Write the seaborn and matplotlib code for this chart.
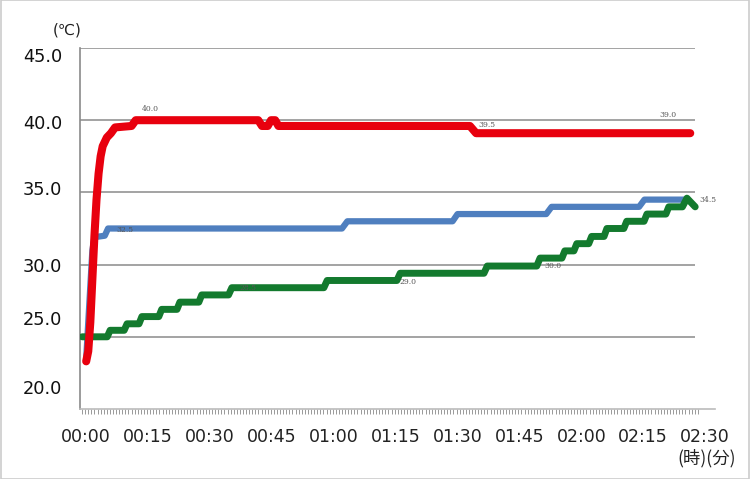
import numpy as np
import pandas as pd
import seaborn as sns
import matplotlib.pyplot as plt

# elapsed time in minutes, temperature in deg C
red_t = [0, 0.5, 1, 1.5, 2, 2.5, 3, 3.5, 4, 5, 6, 7, 11, 12, 41.7, 42.6, 44.0, 44.8, 45.8, 46.6, 93.0, 94.5, 146.4]
red_v = [23.3, 24.0, 26.0, 29.0, 32.0, 34.5, 36.3, 37.5, 38.2, 38.8, 39.1, 39.5, 39.6, 40.0, 40.0, 39.6, 39.6, 40.0, 40.0, 39.6, 39.6, 39.1, 39.1]

blue_t = [0, 0.7, 1.5, 2.0, 4.5, 5.3, 62.0, 63.3, 88.8, 90.0, 111.5, 112.8, 134.0, 135.3, 145.6]
blue_v = [23.5, 27.0, 31.0, 31.9, 32.0, 32.5, 32.5, 33.0, 33.0, 33.5, 33.5, 34.0, 34.0, 34.5, 34.5]

green_t = [-1, 5.1, 5.8, 9.2, 9.9, 12.8, 13.5, 17.6, 18.3, 22.0, 22.7, 27.3, 28.0, 34.5, 35.3, 57.6, 58.4,
           75.3, 76.1, 96.4, 97.2, 109.2, 110.0, 115.3, 116.0, 118.2, 118.9, 121.8, 122.5, 125.5, 126.2,
           130.3, 131.0, 135.2, 135.9, 140.5, 141.2, 144.5, 145.6, 146.6, 147.6]
green_v = [25.0, 25.0, 25.45, 25.45, 25.9, 25.9, 26.4, 26.4, 26.9, 26.9, 27.4, 27.4, 27.9, 27.9, 28.4, 28.4, 28.9,
           28.9, 29.4, 29.4, 29.9, 29.9, 30.45, 30.45, 30.95, 30.95, 31.45, 31.45, 31.95, 31.95, 32.5,
           32.5, 33.0, 33.0, 33.5, 33.5, 34.0, 34.0, 34.6, 34.3, 34.0]

# small value labels next to the lines
note_text = ['40.0', '39.5', '39.0', '32.5', '34.5', '28.5', '29.0', '30.0']
note_t = [15.5, 97.2, 141.0, 9.4, 150.7, 39.3, 78.0, 113.2]
note_v = [40.8, 39.7, 40.35, 32.4, 34.45, 28.4, 28.8, 29.9]

x_ticks = list(range(0, 151, 15))
x_labels = ['00:00', '00:15', '00:30', '00:45', '01:00', '01:15', '01:30', '01:45', '02:00', '02:15', '02:30']
grid_vals = [25, 30, 35, 40, 45]
y_labels = ['20.0', '25.0', '30.0', '35.0', '40.0', '45.0']
y_label_pos = [21.5, 26.3, 30.0, 35.3, 39.9, 44.5]

df_red = pd.DataFrame({'t': red_t, 'v': red_v})
df_blue = pd.DataFrame({'t': blue_t, 'v': blue_v})
df_green = pd.DataFrame({'t': green_t, 'v': green_v})

sns.set_style('white')
plt.rcParams['font.family'] = ['DejaVu Sans', 'Noto Sans CJK JP']

fig = plt.figure(figsize=(7.5, 4.79), dpi=100)
ax = fig.add_axes([80 / 750, 1 - 409 / 479, 635 / 750, 361 / 479])

ax.hlines(grid_vals, -2.0, 147.6, color='#8a8a8a', lw=1.1, zorder=1)

sns.lineplot(data=df_blue, x='t', y='v', color='#4f7fbf', lw=4.5, ax=ax,
             solid_capstyle='round', solid_joinstyle='round', zorder=3)
sns.lineplot(data=df_green, x='t', y='v', color='#137a2e', lw=5.0, ax=ax,
             solid_capstyle='round', solid_joinstyle='round', zorder=4)
sns.lineplot(data=df_red, x='t', y='v', color='#e8000e', lw=5.8, ax=ax,
             solid_capstyle='round', solid_joinstyle='round', zorder=5)

for txt, t, v in zip(note_text, note_t, note_v):
    ax.text(t, v, txt, fontsize=5.5, family='DejaVu Serif', color='#555555',
            ha='center', va='center', zorder=6)

ax.set_xlim(-1.5, 152.4)
ax.set_ylim(20, 45)
ax.set_xticks(x_ticks)
ax.set_xticklabels(x_labels)
ax.set_xticks(np.arange(-1, 148.5, 0.75), minor=True)
ax.set_yticks(y_label_pos)
ax.set_yticklabels(y_labels)
ax.tick_params(axis='x', which='major', length=0, pad=14, labelsize=12.5, labelcolor='#222222')
ax.tick_params(axis='x', which='minor', length=3.5, width=0.7, color='#999999', direction='out', bottom=True)
ax.tick_params(axis='y', length=0, pad=13, labelsize=12.8, labelcolor='#111111')
ax.set_xlabel('')
ax.set_ylabel('')

for side in ['top', 'right']:
    ax.spines[side].set_visible(False)
ax.spines['left'].set_color('#8a8a8a')
ax.spines['left'].set_linewidth(1.2)
ax.spines['bottom'].set_color('#bbbbbb')
ax.spines['bottom'].set_linewidth(1.2)

fig.text(67 / 750, 1 - 30 / 479, '(℃)', fontsize=11, ha='center', va='center', color='#222222')
fig.text(736 / 750, 1 - 458 / 479, '(時)(分)', fontsize=12.5, ha='right', va='center',
         color='#222222', family=['Noto Sans CJK JP', 'DejaVu Sans'])

fig.patches.append(plt.Rectangle((0.001, 0.001), 0.998, 0.998, transform=fig.transFigure,
                                 fill=False, edgecolor='#cccccc', lw=1.2))

fig.savefig('out.png', dpi=100)
plt.close()
